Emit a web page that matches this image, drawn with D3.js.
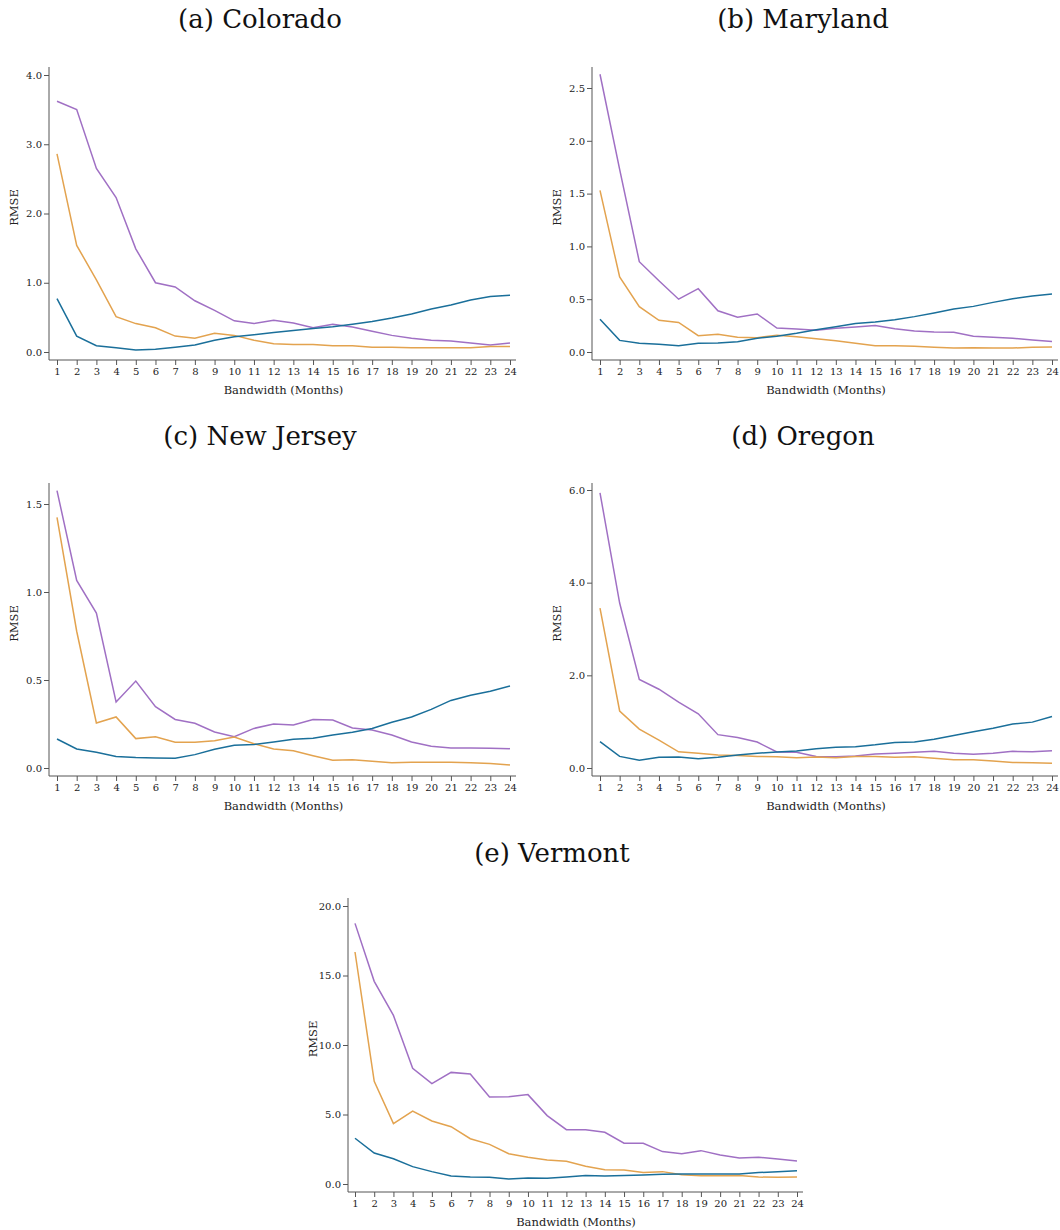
<!DOCTYPE html>
<html>
<head>
<meta charset="utf-8">
<script src="https://cdn.jsdelivr.net/npm/d3@7"></script>
<style>
  body { margin: 0; background: #fff; }
  svg { display: block; }
  .tick text { font-family: "DejaVu Serif", serif; font-size: 10px; fill: #222; }
  .domain, .tick line { stroke: #555; }
  .axis-title { font-family: "DejaVu Serif", serif; font-size: 11.5px; fill: #222; }
  .panel-title { font-family: "DejaVu Serif", serif; font-size: 26px; fill: #111; }
</style>
</head>
<body>
<svg id="chart" width="1060" height="1230"></svg>
<script>
// bandwidth in months
const bandwidths = d3.range(1, 25);

// RMSE values per state, three series each
const coloradoPurple = [3.62, 3.50, 2.65, 2.23, 1.49, 1.00, 0.94, 0.74, 0.60, 0.45, 0.41, 0.46, 0.42, 0.35, 0.40, 0.36, 0.30, 0.24, 0.20, 0.17, 0.16, 0.13, 0.10, 0.13];
const coloradoOrange = [2.86, 1.54, 1.04, 0.51, 0.41, 0.35, 0.23, 0.20, 0.27, 0.24, 0.17, 0.12, 0.11, 0.11, 0.09, 0.09, 0.07, 0.07, 0.06, 0.06, 0.06, 0.06, 0.08, 0.08];
const coloradoBlue = [0.77, 0.23, 0.09, 0.06, 0.03, 0.04, 0.07, 0.10, 0.17, 0.22, 0.25, 0.28, 0.31, 0.34, 0.365, 0.40, 0.44, 0.49, 0.55, 0.62, 0.68, 0.75, 0.80, 0.82];

const marylandPurple = [2.63, 1.73, 0.855, 0.675, 0.50, 0.60, 0.39, 0.33, 0.36, 0.227, 0.218, 0.205, 0.224, 0.237, 0.252, 0.22, 0.20, 0.19, 0.186, 0.15, 0.14, 0.13, 0.114, 0.10];
const marylandOrange = [1.53, 0.71, 0.43, 0.30, 0.28, 0.155, 0.167, 0.14, 0.136, 0.158, 0.145, 0.126, 0.107, 0.082, 0.06, 0.06, 0.054, 0.044, 0.038, 0.041, 0.038, 0.038, 0.044, 0.047];
const marylandBlue = [0.31, 0.11, 0.082, 0.073, 0.06, 0.082, 0.085, 0.098, 0.13, 0.15, 0.177, 0.21, 0.24, 0.27, 0.284, 0.306, 0.335, 0.37, 0.407, 0.432, 0.47, 0.505, 0.53, 0.55];

const newJerseyPurple = [1.576, 1.066, 0.88, 0.375, 0.494, 0.348, 0.276, 0.254, 0.205, 0.178, 0.225, 0.25, 0.244, 0.276, 0.273, 0.227, 0.216, 0.1875, 0.148, 0.123, 0.114, 0.114, 0.112, 0.11];
const newJerseyOrange = [1.424, 0.777, 0.256, 0.29, 0.167, 0.178, 0.146, 0.146, 0.155, 0.176, 0.138, 0.108, 0.098, 0.07, 0.044, 0.047, 0.038, 0.03, 0.032, 0.032, 0.032, 0.03, 0.025, 0.017];
const newJerseyBlue = [0.165, 0.108, 0.089, 0.066, 0.06, 0.057, 0.055, 0.076, 0.106, 0.129, 0.134, 0.148, 0.163, 0.169, 0.1875, 0.203, 0.225, 0.26, 0.29, 0.333, 0.384, 0.413, 0.436, 0.466];

const oregonPurple = [5.94, 3.56, 1.91, 1.70, 1.42, 1.17, 0.72, 0.66, 0.56, 0.345, 0.34, 0.25, 0.245, 0.26, 0.30, 0.32, 0.34, 0.36, 0.32, 0.295, 0.32, 0.36, 0.35, 0.37];
const oregonOrange = [3.45, 1.23, 0.84, 0.60, 0.35, 0.32, 0.28, 0.27, 0.25, 0.245, 0.22, 0.237, 0.22, 0.25, 0.25, 0.23, 0.245, 0.21, 0.18, 0.18, 0.15, 0.12, 0.115, 0.10];
const oregonBlue = [0.57, 0.25, 0.165, 0.23, 0.237, 0.20, 0.23, 0.28, 0.32, 0.345, 0.367, 0.417, 0.45, 0.46, 0.50, 0.55, 0.56, 0.62, 0.70, 0.78, 0.86, 0.95, 0.99, 1.11];

const vermontPurple = [18.75, 14.58, 12.13, 8.32, 7.22, 8.03, 7.91, 6.26, 6.28, 6.43, 4.92, 3.91, 3.91, 3.72, 2.93, 2.93, 2.33, 2.18, 2.40, 2.09, 1.87, 1.92, 1.80, 1.65];
const vermontOrange = [16.69, 7.39, 4.34, 5.25, 4.53, 4.12, 3.26, 2.85, 2.18, 1.92, 1.73, 1.63, 1.27, 1.03, 1.01, 0.82, 0.89, 0.67, 0.60, 0.60, 0.62, 0.50, 0.48, 0.50];
const vermontBlue = [3.29, 2.23, 1.82, 1.25, 0.89, 0.58, 0.50, 0.48, 0.36, 0.43, 0.41, 0.50, 0.62, 0.58, 0.62, 0.65, 0.70, 0.72, 0.72, 0.72, 0.72, 0.82, 0.89, 0.96];

// y tick values per panel
const coloradoTicks = [0, 1, 2, 3, 4];
const marylandTicks = [0, 0.5, 1, 1.5, 2, 2.5];
const newJerseyTicks = [0, 0.5, 1, 1.5];
const oregonTicks = [0, 2, 4, 6];
const vermontTicks = [0, 5, 10, 15, 20];

const colors = { purple: '#a070c4', orange: '#e3a34f', blue: '#1a6f9a' };
const serif = '"DejaVu Serif", serif';

// layout: left = y axis x, x0/x1 = first/last tick, top/bottom = axis ends, y0 = pixel of zero, yT = pixel of top tick
const panels = [
    { title: '(a) Colorado', ticks: coloradoTicks, series: [coloradoPurple, coloradoOrange, coloradoBlue],
      left: 49, x0: 57, x1: 510, right: 516, top: 67, bottom: 360, y0: 352, yT: 75, titleX: 260, titleY: 28 },
    { title: '(b) Maryland', ticks: marylandTicks, series: [marylandPurple, marylandOrange, marylandBlue],
      left: 592, x0: 600, x1: 1052, right: 1058, top: 67, bottom: 360, y0: 352, yT: 88, titleX: 803, titleY: 28 },
    { title: '(c) New Jersey', ticks: newJerseyTicks, series: [newJerseyPurple, newJerseyOrange, newJerseyBlue],
      left: 49, x0: 57, x1: 510, right: 516, top: 483, bottom: 776, y0: 768, yT: 504, titleX: 260, titleY: 445 },
    { title: '(d) Oregon', ticks: oregonTicks, series: [oregonPurple, oregonOrange, oregonBlue],
      left: 592, x0: 600, x1: 1052, right: 1058, top: 483, bottom: 776, y0: 768, yT: 490, titleX: 803, titleY: 445 },
    { title: '(e) Vermont', ticks: vermontTicks, series: [vermontPurple, vermontOrange, vermontBlue],
      left: 348, x0: 355, x1: 797, right: 803, top: 898, bottom: 1192, y0: 1184, yT: 906, titleX: 552, titleY: 862 }
];
const seriesColors = [colors.purple, colors.orange, colors.blue];

const svg = d3.select('#chart');

panels.forEach(p => {
    const g = svg.append('g');

    const x = d3.scalePoint()
        .domain(bandwidths)
        .range([p.x0, p.x1]);

    const topTick = p.ticks[p.ticks.length - 1];
    const y = d3.scaleLinear()
        .domain([0, topTick])
        .range([p.y0, p.yT]);

    // title
    g.append('text')
        .attr('class', 'panel-title')
        .attr('x', p.titleX)
        .attr('y', p.titleY)
        .attr('text-anchor', 'middle')
        .text(p.title);

    // x axis
    const xAxis = g.append('g')
        .attr('transform', `translate(0,${p.bottom})`)
        .attr('font-family', serif)
        .call(d3.axisBottom(x).tickSize(5).tickPadding(3).tickSizeOuter(0));
    xAxis.select('.domain').attr('d', `M${p.left},0H${p.right}`);

    // y axis
    const yAxis = g.append('g')
        .attr('transform', `translate(${p.left},0)`)
        .attr('font-family', serif)
        .call(d3.axisLeft(y).tickValues(p.ticks).tickFormat(d3.format('.1f')).tickSize(5).tickPadding(2).tickSizeOuter(0));
    yAxis.select('.domain').attr('d', `M0,${p.top}V${p.bottom}`);

    g.append('text')
        .attr('class', 'axis-title')
        .attr('x', (p.x0 + p.x1) / 2)
        .attr('y', p.bottom + 34)
        .attr('text-anchor', 'middle')
        .text('Bandwidth (Months)');

    g.append('text')
        .attr('class', 'axis-title')
        .attr('transform', `translate(${p.left - 31},${(p.top + p.bottom) / 2 - 6}) rotate(-90)`)
        .attr('text-anchor', 'middle')
        .text('RMSE');

    const line = d3.line()
        .x((d, i) => x(bandwidths[i]))
        .y(d => y(d));

    g.selectAll('.series')
        .data(p.series)
        .join('path')
        .attr('class', 'series')
        .attr('fill', 'none')
        .attr('stroke', (d, i) => seriesColors[i])
        .attr('stroke-width', 1.5)
        .attr('d', line);
});
</script>
</body>
</html>
